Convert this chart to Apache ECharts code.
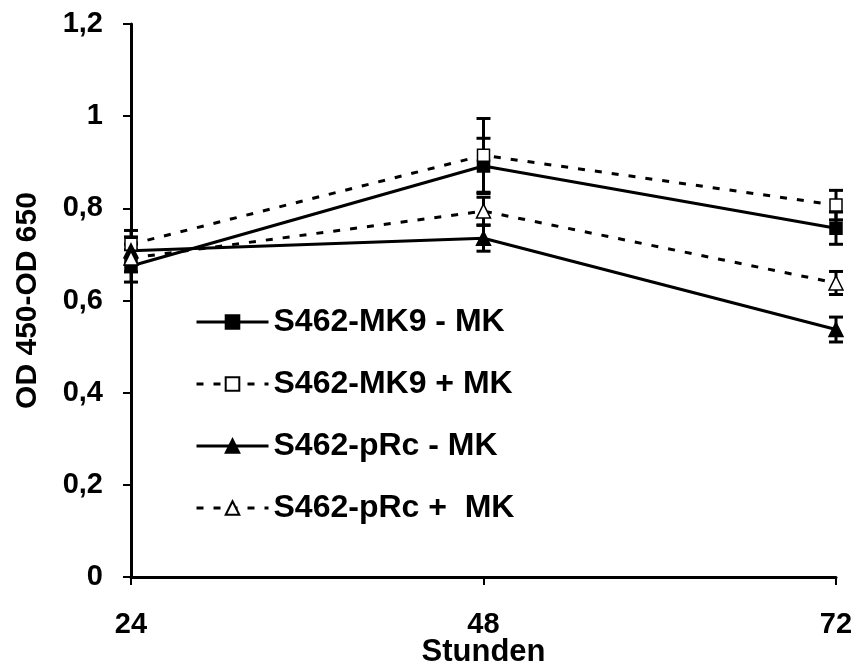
<!DOCTYPE html>
<html>
<head>
<meta charset="utf-8">
<script src="https://cdn.jsdelivr.net/npm/echarts@6/dist/echarts.min.js"></script>
<style>
  html, body { margin: 0; padding: 0; background: #fff; }
  #chart { width: 857px; height: 666px; }
</style>
</head>
<body>
<div id="chart"></div>
<script>
// Time points (hours)
const hours = [24, 48, 72];
const yTicks = [0, 0.2, 0.4, 0.6, 0.8, 1, 1.2];

// Mean OD 450 - OD 650 per group
const mk9Minus = [0.675, 0.892, 0.757];
const mk9Plus = [0.722, 0.915, 0.807];
const pRcMinus = [0.708, 0.735, 0.537];
const pRcPlus = [0.692, 0.794, 0.638];

// Standard deviations
const mk9MinusErr = [0.035, 0.060, 0.035];
const mk9PlusErr = [0.030, 0.080, 0.032];
const pRcMinusErr = [0.030, 0.028, 0.027];
const pRcPlusErr = [0.030, 0.030, 0.025];

const names = ['S462-MK9 - MK', 'S462-MK9 + MK', 'S462-pRc - MK', 'S462-pRc +  MK'];
const FONT = 'Liberation Sans, Arial, sans-serif';

function pairs(vals) { return hours.map((h, i) => [h, vals[i]]); }

function errorSeries(vals, errs) {
  return {
    type: 'custom',
    silent: true,
    z: 1,
    data: hours.map((h, i) => [h, vals[i] - errs[i], vals[i] + errs[i]]),
    renderItem: function (params, api) {
      const lo = api.coord([api.value(0), api.value(1)]);
      const hi = api.coord([api.value(0), api.value(2)]);
      const w = 7;
      const style = { stroke: '#000', lineWidth: 3 };
      return {
        type: 'group',
        children: [
          { type: 'line', shape: { x1: lo[0], y1: lo[1], x2: hi[0], y2: hi[1] }, style: style },
          { type: 'line', shape: { x1: lo[0] - w, y1: lo[1], x2: lo[0] + w, y2: lo[1] }, style: style },
          { type: 'line', shape: { x1: hi[0] - w, y1: hi[1], x2: hi[0] + w, y2: hi[1] }, style: style }
        ]
      };
    }
  };
}

function lineSeries(name, vals, dashed, symbol, filled, size) {
  return {
    name: name,
    type: 'line',
    z: 3,
    data: pairs(vals),
    symbol: symbol,
    symbolSize: size,
    showAllSymbol: true,
    lineStyle: { color: '#000', width: 3, type: dashed ? [7, 10] : 'solid' },
    itemStyle: { color: filled ? '#000' : '#fff', borderColor: '#000', borderWidth: 1.5 },
    emphasis: { disabled: true },
    animation: false
  };
}

const chart = echarts.init(document.getElementById('chart'), null, { renderer: 'canvas' });

chart.setOption({
  animation: false,
  backgroundColor: '#fff',
  grid: { left: 131, right: 21, top: 24, bottom: 89, containLabel: false, outerBoundsMode: 'none' },
  legend: {
    orient: 'vertical',
    left: 195,
    top: 306,
    padding: 0,
    itemWidth: 72,
    itemHeight: 17,
    itemGap: 30,
    lineStyle: { width: 3 },
    textStyle: { fontFamily: FONT, fontWeight: 'bold', fontSize: 32, color: '#000' },
    data: names
  },
  xAxis: {
    type: 'value',
    min: 24,
    max: 72,
    interval: 24,
    name: 'Stunden',
    nameLocation: 'middle',
    nameGap: 60,
    nameMoveOverlap: false,
    nameTextStyle: { fontFamily: FONT, fontWeight: 'bold', fontSize: 31, color: '#000' },
    axisLine: { lineStyle: { color: '#000', width: 3 } },
    axisTick: { show: true, length: 8, lineStyle: { color: '#000', width: 2 } },
    axisLabel: { fontFamily: FONT, fontWeight: 'bold', fontSize: 29, color: '#000', margin: 33 },
    splitLine: { show: false }
  },
  yAxis: {
    type: 'value',
    min: yTicks[0],
    max: yTicks[yTicks.length - 1],
    interval: 0.2,
    name: 'OD 450-OD 650',
    nameLocation: 'middle',
    nameGap: 88,
    nameMoveOverlap: false,
    nameTextStyle: { fontFamily: FONT, fontWeight: 'bold', fontSize: 30, color: '#000' },
    axisLine: { show: true, lineStyle: { color: '#000', width: 3 } },
    axisTick: { show: true, length: 8, lineStyle: { color: '#000', width: 2 } },
    axisLabel: {
      fontFamily: FONT, fontWeight: 'bold', fontSize: 29, color: '#000', margin: 28,
      formatter: v => String(Math.round(v * 10) / 10).replace('.', ',')
    },
    splitLine: { show: false }
  },
  series: [
    errorSeries(mk9Minus, mk9MinusErr),
    errorSeries(mk9Plus, mk9PlusErr),
    errorSeries(pRcMinus, pRcMinusErr),
    errorSeries(pRcPlus, pRcPlusErr),
    lineSeries(names[0], mk9Minus, false, 'rect', true, 12),
    lineSeries(names[1], mk9Plus, true, 'rect', false, 12),
    lineSeries(names[2], pRcMinus, false, 'triangle', true, 14),
    lineSeries(names[3], pRcPlus, true, 'triangle', false, 14)
  ]
});
</script>
</body>
</html>
